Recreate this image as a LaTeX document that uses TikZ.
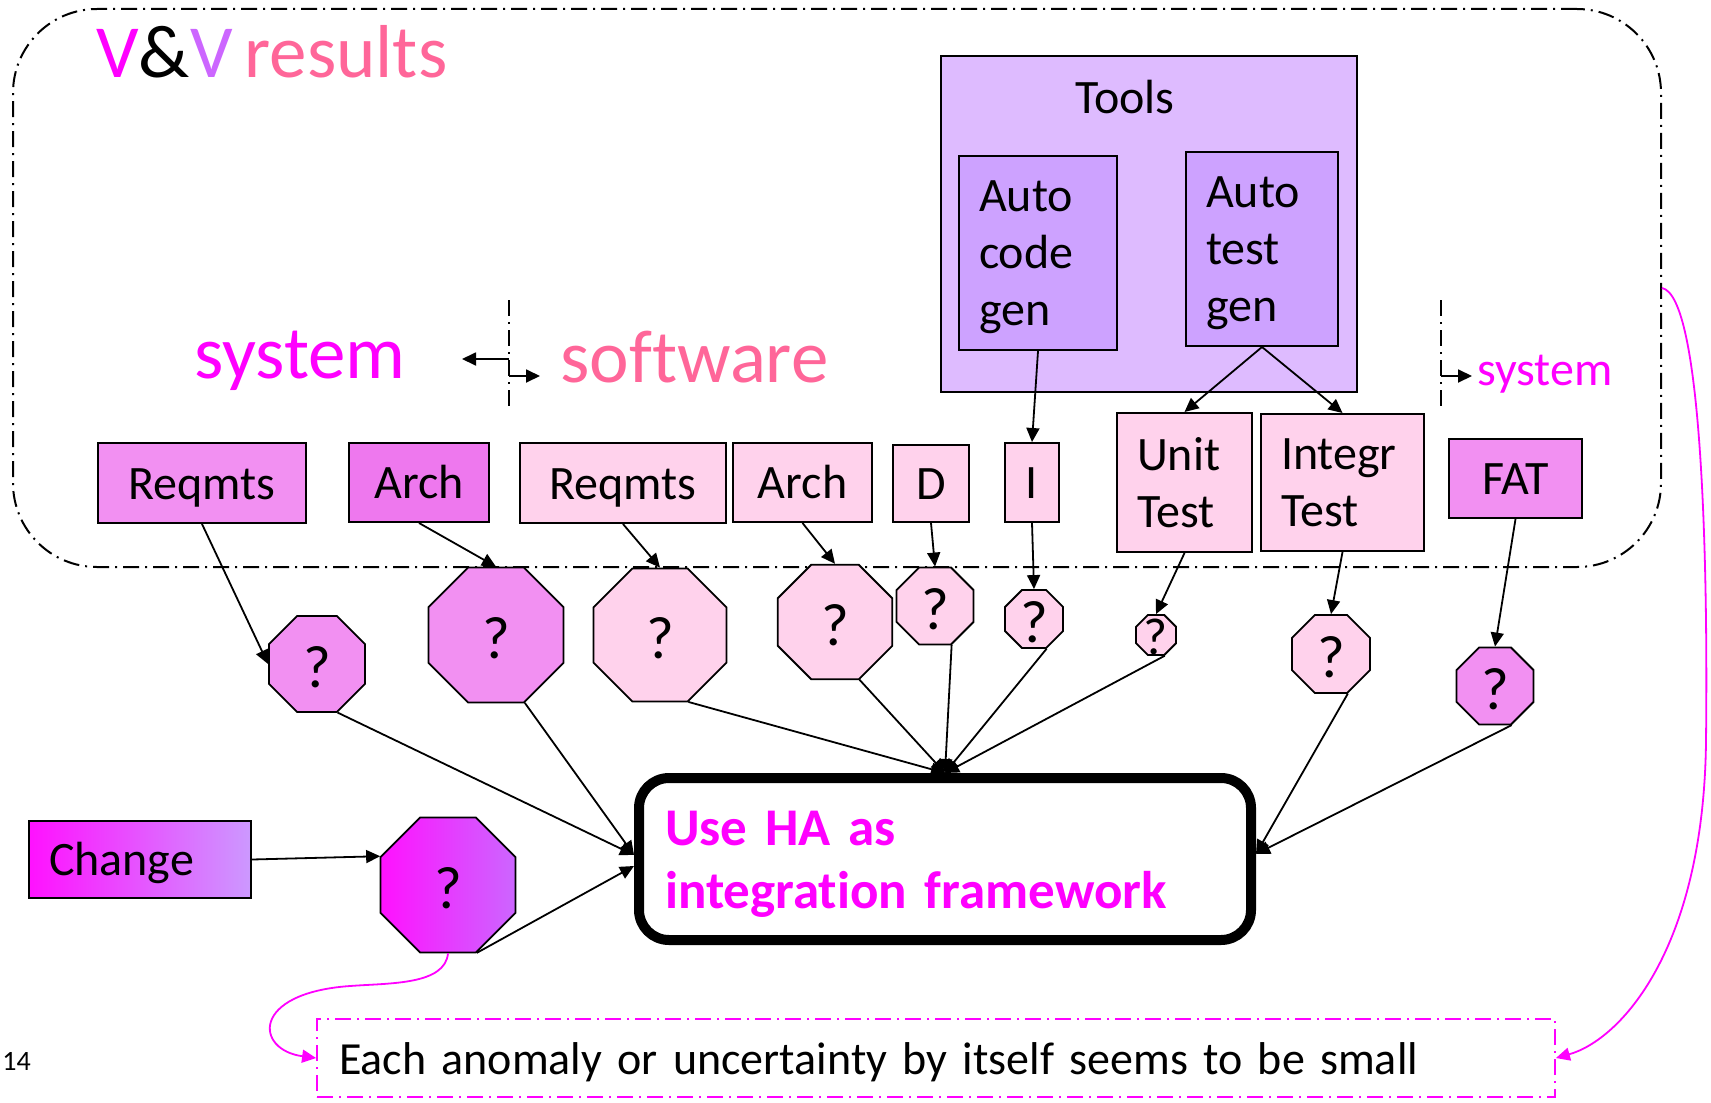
\documentclass[tikz,border=0pt]{standalone}
\usepackage{fontspec}
\setmainfont{Carlito}[Ligatures={NoCommon}, WordSpace={0.7}]
\usetikzlibrary{arrows.meta,shapes.geometric,calc}

\definecolor{vmag}{HTML}{FF00FF}
\definecolor{vpink}{HTML}{FF6699}
\definecolor{vpurple}{HTML}{CC66FF}
\definecolor{sysfill}{HTML}{F290F2}
\definecolor{archfill}{HTML}{EE78EE}
\definecolor{swfill}{HTML}{FFD2EC}
\definecolor{toolfill}{HTML}{DEBBFF}
\definecolor{genfill}{HTML}{CDA2FF}
\definecolor{chgleft}{HTML}{FF11FF}
\definecolor{chgright}{HTML}{CC99FF}
\definecolor{octright}{HTML}{CC66FF}

\begin{document}
\begin{tikzpicture}[x=0.5pt,y=-0.5pt,
  every node/.style={font=\fontsize{24}{28.5}\selectfont},
  box/.style={draw, line width=1pt, rectangle, inner sep=0pt},
  onebox/.style={box, text height=17pt, text depth=1pt},
  txtbox/.style={box, align=left, inner xsep=10pt},
  genbox/.style={txtbox, fill=genfill, minimum height=97pt, text height=16pt, text depth=58pt},
  oct/.style={regular polygon, regular polygon sides=8, draw, line width=0.9pt, inner sep=0pt},
  q/.style={label={[font=\fontsize{30}{30}\selectfont, yshift=-1.5pt]center:?}},
  qs/.style={label={[font=\fontsize{26}{26}\selectfont, yshift=-1pt]center:?}},
  conn/.style={-{Triangle[length=7pt,width=6.5pt]}, line width=0.9pt},
  mconn/.style={-{Triangle[length=7pt,width=6.5pt]}, line width=0.9pt, vmag},
  divider/.style={line width=0.9pt, dash pattern=on 8pt off 3pt on 1pt off 3pt},
  big/.style={font=\fontsize{37.5}{37.5}\selectfont, inner sep=0pt},
]
\useasboundingbox (0,0) rectangle (1711,1102);

% container of the verification and validation results
\node[draw, line width=1pt, rounded corners=42pt,
      dash pattern=on 8pt off 3pt on 1pt off 3pt,
      minimum width=824pt, minimum height=279pt] (vv) at (837,288) {};

\node[big, anchor=base west] (title) at (96,78)
  {\textcolor{vmag}{V}\textcolor{black}{\&}\textcolor{vpurple}{V} \textcolor{vpink}{results}};

% phase labels and dividers
\node[big, anchor=base west, text=vmag] (sys1) at (194,378) {system};
\node[big, anchor=base west, text=vpink] (sw) at (560,382) {software};
\node[anchor=base west, text=vmag, inner sep=0pt] (sys2) at (1477,385) {system};

\coordinate (d1t) at (509,300);
\coordinate (d1b) at (509,407);
\coordinate (d1l) at (509,359);
\coordinate (d1lt) at (462,359);
\coordinate (d1r) at (509,376);
\coordinate (d1rt) at (540,376);
\draw[divider] (d1t) -- (d1b);
\draw[conn] (d1l) -- (d1lt);
\draw[conn] (d1r) -- (d1rt);

\coordinate (d2t) at (1441,300);
\coordinate (d2b) at (1441,407);
\coordinate (d2r) at (1441,376);
\coordinate (d2rt) at (1472,376);
\draw[divider] (d2t) -- (d2b);
\draw[conn] (d2r) -- (d2rt);

% tools
\node[box, line width=1.2pt, fill=toolfill, minimum width=208pt, minimum height=168pt] (tools) at (1149,224) {};
\node[anchor=base, inner sep=0pt] (toolslbl) at (1125,113) {Tools};
\node[genbox, text width=59pt] (acg) at (1038,253) {Auto\\code\\gen};
\node[genbox, text width=56pt] (atg) at (1262,249) {Auto\\test\\gen};

% work products
\node[onebox, fill=sysfill, minimum width=104pt, minimum height=40pt] (r1) at (202,483) {Reqmts};
\node[onebox, fill=archfill, minimum width=70pt, minimum height=39.5pt] (a1) at (419,482.5) {Arch};
\node[onebox, fill=swfill, minimum width=103pt, minimum height=40pt] (r2) at (623,483) {Reqmts};
\node[onebox, fill=swfill, minimum width=69.5pt, minimum height=39.5pt] (a2) at (802.5,482.5) {Arch};
\node[onebox, fill=swfill, minimum width=38pt, minimum height=38.5pt] (d) at (931,483.5) {D};
\node[onebox, fill=swfill, minimum width=27pt, minimum height=39.5pt] (i) at (1032,482.5) {I};
\node[txtbox, fill=swfill, text width=47.5pt, minimum height=69.5pt] (ut) at (1184.5,482.5) {Unit\\Test};
\node[txtbox, fill=swfill, text width=61.5pt, minimum height=68.5pt] (it) at (1342.5,482.5) {Integr\\Test};
\node[onebox, fill=sysfill, minimum width=66.5pt, minimum height=39.5pt] (fat) at (1515.5,478.5) {FAT};

% open questions
\node[oct, q, fill=sysfill, minimum size=52pt] (o1) at (317,664) {};
\node[oct, q, fill=sysfill, minimum size=73pt] (o2) at (496,635) {};
\node[oct, q, fill=swfill, minimum size=72pt] (o3) at (660,635) {};
\node[oct, q, fill=swfill, minimum size=62pt] (o4) at (835,622) {};
\node[oct, q, fill=swfill, minimum size=41.7pt] (o5) at (935,606) {};
\node[oct, q, fill=swfill, minimum size=31.4pt] (o6) at (1034,619) {};
\node[oct, qs, fill=swfill, minimum size=21.6pt] (o7) at (1156,635) {};
\node[oct, q, fill=swfill, minimum size=42.2pt] (o8) at (1331,654) {};
\node[oct, q, fill=sysfill, minimum size=41.7pt] (o9) at (1495,686) {};

% change
\node[onebox, left color=chgleft, right color=chgright, minimum width=111pt, minimum height=38.5pt,
      align=left, text width=91pt, inner xsep=10pt] (chg) at (140,859.5) {Change};
\node[oct, q, left color=chgleft, right color=octright, minimum size=73pt] (o10) at (448,885) {};

% integration framework
\node[draw, line width=5pt, rounded corners=15pt, minimum width=306pt, minimum height=81pt,
      text width=280pt, inner xsep=13pt, align=left, text=vmag,
      text height=17pt, text depth=31pt,
      font=\bfseries\fontsize{26.5}{31.5}\selectfont] (main) at (945,859)
  {Use HA as\\integration framework};

% note
\node[draw=vmag, line width=0.9pt, dash pattern=on 8pt off 3pt on 1pt off 3pt,
      minimum width=619pt, minimum height=39pt, text width=597pt, inner xsep=11pt,
      text height=17pt, text depth=1pt,
      align=left, font=\fontsize{23}{28}\selectfont] (note) at (936,1058)
  {Each anomaly or uncertainty by itself seems to be small};

\node[anchor=base west, inner sep=0pt, font=\fontsize{14}{16}\selectfont] (pg) at (2,1070) {14};

% tools to products
\draw[conn] (acg.south) -- (i.north);
\draw[conn] (atg.south) -- (ut.north);
\draw[conn] (atg.south) -- (it.north);

% products to questions
\draw[conn] (r1.south) -- (o1.west);
\draw[conn] (a1.south) -- (o2.north);
\draw[conn] (r2.south) -- (o3.north);
\draw[conn] (a2.south) -- (o4.north);
\draw[conn] (d.south) -- (o5.north);
\draw[conn] (i.south) -- (o6.north);
\draw[conn] (ut.south) -- (o7.north);
\draw[conn] (it.south) -- (o8.north);
\draw[conn] (fat.south) -- (o9.north);
\draw[conn] (chg.east) -- (o10.157.5);

% questions into the framework
\draw[conn] (o1.-67.5) -- ($(main.west)+(0,-4)$);
\draw[conn] (o2.-67.5) -- ($(main.west)+(0,-4)$);
\draw[conn] (o10.-67.5) -- ($(main.west)+(0,7)$);
\draw[conn] (o3.-67.5) -- (main.north);
\draw[conn] (o4.-67.5) -- (main.north);
\draw[conn] (o5.-67.5) -- (main.north);
\draw[conn] (o6.-67.5) -- (main.north);
\draw[conn] (o7.-67.5) -- (main.north);
\draw[conn] (o8.-67.5) -- ($(main.east)+(0,-5)$);
\draw[conn] (o9.-67.5) -- ($(main.east)+(0,-5)$);

% links to the note
\draw[mconn] (o10.south) .. controls (445,985) and (390,983) .. (350,986)
  .. controls (250,993) and (255,1050) .. (note.west);
\draw[mconn] (vv.east) .. controls (1702,296) and (1708,560) .. (1706,740)
  .. controls (1704,950) and (1620,1040) .. (note.east);
\end{tikzpicture}
\end{document}
